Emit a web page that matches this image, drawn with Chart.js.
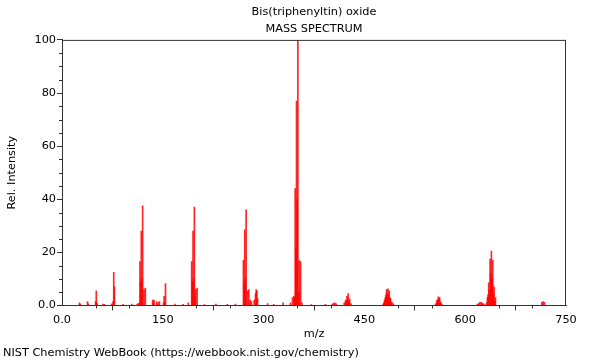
<!DOCTYPE html>
<html>
<head>
<meta charset="utf-8">
<script src="https://cdn.jsdelivr.net/npm/chart.js@4/dist/chart.umd.min.js"></script>
<style>
html,body{margin:0;padding:0;background:#fff;}
#wrap{width:600px;height:360px;}
</style>
</head>
<body>
<div id="wrap"><canvas id="c" width="600" height="360"></canvas></div>
<script>
const chartTitle = ['Bis(triphenyltin) oxide', 'MASS SPECTRUM'];
const footerText = 'NIST Chemistry WebBook (https://webbook.nist.gov/chemistry)';
const xTickValues = [0, 150, 300, 450, 600, 750];
const yTickValues = [0, 20, 40, 60, 80, 100];

const mz = [
  26, 27, 38, 39, 50, 51, 52, 61, 63, 74, 76, 77, 78, 91, 104,
  112, 114, 115, 116, 117, 118, 119, 120, 122, 124,
  135, 136, 137, 141, 143, 145, 151, 152, 153, 154, 168, 180, 188,
  193, 194, 195, 196, 197, 198, 199, 201, 212, 229, 246, 258,
  270, 271, 272, 273, 274, 276, 278, 280, 282, 286, 288, 289, 290, 291,
  306, 315, 329, 340, 343, 345, 346, 347, 348, 349, 350, 351, 352, 353, 355, 357,
  371, 392, 402, 404, 406, 408,
  420, 422, 423, 424, 425, 426, 427, 428, 430,
  478, 479, 480, 481, 482, 483, 484, 485, 486, 487, 488, 489, 490, 491, 493,
  556, 557, 558, 559, 560, 561, 562, 563, 564, 565,
  618, 620, 622, 624, 626, 628,
  632, 633, 634, 635, 636, 637, 638, 639, 640, 641, 642, 643, 644, 645,
  714, 716, 718
];
const intensity = [
  1.0, 0.5, 1.5, 0.6, 1.5, 5.5, 0.8, 0.5, 0.4, 0.6, 1.5, 12.5, 7.0, 0.4, 0.5,
  0.5, 0.8, 0.8, 16.5, 9.0, 28.0, 10.0, 37.5, 6.0, 6.5,
  2.0, 1.0, 2.0, 1.5, 1.0, 1.5, 1.0, 3.4, 1.0, 8.2, 0.5, 0.4, 1.0,
  16.5, 9.0, 28.0, 10.0, 37.0, 3.0, 6.0, 6.5, 0.3, 0.5, 0.4, 0.5,
  17.0, 9.0, 28.5, 10.0, 36.0, 5.5, 6.0, 2.0, 1.5, 2.0, 4.5, 6.0, 5.5, 2.5,
  0.7, 0.4, 1.0, 1.0, 3.0, 3.5, 3.0, 44.0, 22.0, 77.0, 40.0, 100.0, 5.0, 17.0, 16.5, 1.0,
  0.3, 0.4, 0.5, 0.8, 1.0, 0.6,
  1.0, 2.0, 1.5, 3.5, 2.0, 4.5, 1.5, 2.5, 0.7,
  0.5, 1.0, 2.0, 3.0, 4.0, 6.0, 4.5, 6.3, 4.0, 5.5, 3.0, 2.5, 1.0, 1.2, 0.6,
  0.5, 1.0, 2.0, 2.0, 3.2, 2.5, 3.0, 1.5, 1.0, 0.5,
  0.4, 0.8, 1.2, 1.2, 0.8, 0.5,
  1.0, 3.0, 4.0, 8.5, 6.0, 17.5, 12.0, 20.5, 10.0, 17.0, 4.5, 7.0, 1.5, 3.0,
  1.2, 1.5, 1.2
];

const points = mz.map((m, i) => ({x: m, y: intensity[i]}));
const axisColor = '#333';
const fontFamily = 'DejaVu Sans';
const fontSize = 11.3;

const frameAndMinorTicks = {
  id: 'frameAndMinorTicks',
  afterDraw(chart) {
    const {ctx, chartArea: a, scales: {x, y}} = chart;
    ctx.save();
    ctx.strokeStyle = axisColor;
    ctx.lineWidth = 1;
    ctx.beginPath();
    ctx.moveTo(a.left, a.top + 0.5); ctx.lineTo(a.right, a.top + 0.5);
    ctx.moveTo(a.right - 0.5, a.top); ctx.lineTo(a.right - 0.5, a.bottom);
    for (let v = 0; v <= 750; v += 50) {
      if (v % 150 === 0) continue;
      const px = Math.round(x.getPixelForValue(v)) + 0.5;
      ctx.moveTo(px, a.bottom); ctx.lineTo(px, a.bottom + 3);
    }
    for (let v = 0; v <= 100; v += 5) {
      if (v % 20 === 0) continue;
      const py = Math.round(y.getPixelForValue(v)) + 0.5;
      ctx.moveTo(a.left - 3, py); ctx.lineTo(a.left, py);
    }
    ctx.stroke();
    ctx.restore();
  }
};

new Chart(document.getElementById('c'), {
  type: 'bar',
  data: {
    datasets: [{
      data: points,
      backgroundColor: 'rgba(255,0,0,0.85)',
      borderWidth: 0,
      barThickness: 1,
      grouped: false
    }]
  },
  options: {
    responsive: false,
    animation: false,
    devicePixelRatio: 1,
    layout: {padding: {left: 3, right: 34, top: 0, bottom: 0}},
    plugins: {
      legend: {display: false},
      tooltip: {enabled: false},
      title: {
        display: true,
        fullSize: false,
        text: chartTitle,
        color: '#000',
        font: {family: fontFamily, size: fontSize, weight: 'normal', lineHeight: 1.5},
        padding: {top: 4, bottom: 2}
      },
      subtitle: {
        display: true,
        position: 'bottom',
        align: 'start',
        text: footerText,
        color: '#000',
        font: {family: fontFamily, size: fontSize, weight: 'normal', lineHeight: 1.2},
        padding: {top: 2, bottom: 0}
      }
    },
    scales: {
      x: {
        type: 'linear',
        min: 0, max: 750,
        offset: false,
        afterBuildTicks(s) { s.ticks = xTickValues.map(v => ({value: v})); },
        afterFit(s) { s.height = 39; },
        ticks: {
          color: '#000',
          font: {family: fontFamily, size: fontSize},
          padding: 3,
          maxRotation: 0,
          autoSkip: false,
          callback: v => v === 0 ? '0.0' : String(v)
        },
        grid: {display: true, drawOnChartArea: false, drawTicks: true, tickLength: 5, color: axisColor},
        border: {display: true, color: axisColor},
        title: {display: true, text: 'm/z', color: '#000', font: {family: fontFamily, size: fontSize}, padding: {top: 0, bottom: 4}}
      },
      y: {
        type: 'linear',
        min: 0, max: 100,
        afterBuildTicks(s) { s.ticks = yTickValues.map(v => ({value: v})); },
        afterFit(s) { s.width = 59; },
        ticks: {
          color: '#000',
          font: {family: fontFamily, size: fontSize},
          padding: 1,
          autoSkip: false,
          callback: v => v === 0 ? '0.0' : String(v)
        },
        grid: {display: true, drawOnChartArea: false, drawTicks: true, tickLength: 5, color: axisColor},
        border: {display: true, color: axisColor},
        title: {display: true, text: 'Rel. Intensity', color: '#000', font: {family: fontFamily, size: fontSize}, padding: {top: 2, bottom: 0}}
      }
    }
  },
  plugins: [frameAndMinorTicks]
});
</script>
</body>
</html>
